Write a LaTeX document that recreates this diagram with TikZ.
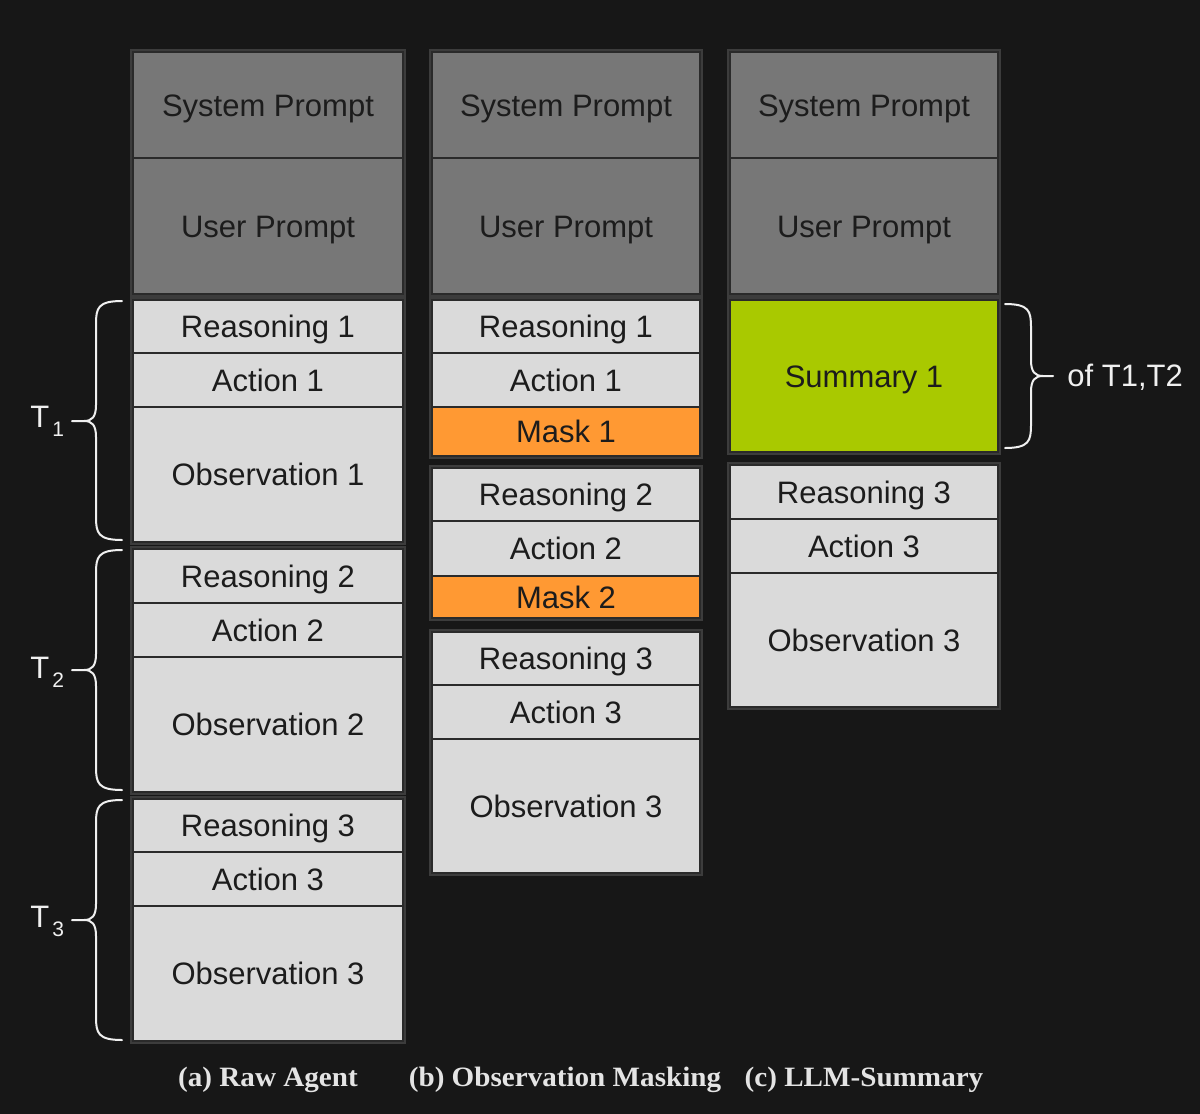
\documentclass[tikz,border=0pt]{standalone}
\usepackage{fontspec}
\setmainfont{Liberation Sans}
\newfontfamily\capfont{Liberation Serif}
\usetikzlibrary{fit,calc}
\definecolor{bgc}{HTML}{171717}
\definecolor{lightc}{HTML}{DADADA}
\definecolor{promptc}{HTML}{777777}
\definecolor{orangec}{HTML}{FF9933}
\definecolor{greenc}{HTML}{A9C900}
\definecolor{txtc}{HTML}{1C1C1C}
\definecolor{edgec}{HTML}{2A2A2A}
\definecolor{framec}{HTML}{3C3C3C}
\definecolor{whitec}{HTML}{F0F0F0}
\tikzset{
  blk/.style={rectangle, draw=edgec, line width=1pt, inner sep=0pt, outer sep=0pt},
  blktxt/.style={text=txtc, inner sep=0pt, font=\fontsize{15.5}{18}\selectfont},
  grp/.style={draw=framec, line width=0.6pt, fill=edgec},
  brc/.style={draw=whitec, line width=1pt, line cap=round},
  lbl/.style={text=whitec, inner sep=0pt, font=\fontsize{15.5}{18}\selectfont},
  captxt/.style={text=whitec!95!black, inner sep=0pt, font=\capfont\bfseries\fontsize{14}{16}\selectfont},
}
\newcommand\bx[7]{%
  \coordinate (#1-a) at (#2,#3);
  \coordinate (#1-b) at (#4,#5);
  \node[blk, fill=#6, fit=(#1-a)(#1-b)] (#1) {};
  \node[blktxt, anchor=base] (#1-t) at ($(#1.center)+(0,11)$) {#7};
}
\newcommand\LBrc[3]{%
  \draw[brc] (122,#1) .. controls (98,#1) and (96,#1+7) .. (96,#1+23) -- (96,#2-16)
     .. controls (96,#2-4) and (92,#2) .. (84,#2) -- (72,#2)
     (84,#2) .. controls (92,#2) and (96,#2+4) .. (96,#2+16) -- (96,#3-23)
     .. controls (96,#3-7) and (98,#3) .. (122,#3);
}
\begin{document}
\begin{tikzpicture}[x=0.5pt,y=-0.5pt]
\fill[bgc] (0,0) rectangle (1200,1114);
\useasboundingbox (0,0) rectangle (1200,1114);

% group frames
\draw[grp] (131,50) rectangle (405,296);
\draw[grp] (131,298) rectangle (405,544);
\draw[grp] (131,547) rectangle (405,794);
\draw[grp] (131,797) rectangle (405,1043);
\draw[grp] (430,50) rectangle (702,296);
\draw[grp] (430,298) rectangle (702,458);
\draw[grp] (430,466) rectangle (702,620);
\draw[grp] (430,630) rectangle (702,875);
\draw[grp] (728,50) rectangle (1000,296);
\draw[grp] (728,298) rectangle (1000,454);
\draw[grp] (728,463) rectangle (1000,709);

% column a
\bx{aS}{133}{52}{403}{158}{promptc}{System Prompt}
\bx{aU}{133}{158}{403}{294}{promptc}{User Prompt}
\bx{aR1}{133}{300}{403}{353}{lightc}{Reasoning 1}
\bx{aA1}{133}{353}{403}{407}{lightc}{Action 1}
\bx{aO1}{133}{407}{403}{542}{lightc}{Observation 1}
\bx{aR2}{133}{549}{403}{603}{lightc}{Reasoning 2}
\bx{aA2}{133}{603}{403}{657}{lightc}{Action 2}
\bx{aO2}{133}{657}{403}{792}{lightc}{Observation 2}
\bx{aR3}{133}{799}{403}{852}{lightc}{Reasoning 3}
\bx{aA3}{133}{852}{403}{906}{lightc}{Action 3}
\bx{aO3}{133}{906}{403}{1041}{lightc}{Observation 3}

% column b
\bx{bS}{432}{52}{700}{158}{promptc}{System Prompt}
\bx{bU}{432}{158}{700}{294}{promptc}{User Prompt}
\bx{bR1}{432}{300}{700}{353}{lightc}{Reasoning 1}
\bx{bA1}{432}{353}{700}{407}{lightc}{Action 1}
\bx{bM1}{432}{407}{700}{456}{orangec}{Mask 1}
\bx{bR2}{432}{468}{700}{521}{lightc}{Reasoning 2}
\bx{bA2}{432}{521}{700}{576}{lightc}{Action 2}
\bx{bM2}{432}{576}{700}{618}{orangec}{Mask 2}
\bx{bR3}{432}{632}{700}{685}{lightc}{Reasoning 3}
\bx{bA3}{432}{685}{700}{739}{lightc}{Action 3}
\bx{bO3}{432}{739}{700}{873}{lightc}{Observation 3}

% column c
\bx{cS}{730}{52}{998}{158}{promptc}{System Prompt}
\bx{cU}{730}{158}{998}{294}{promptc}{User Prompt}
\bx{cS1}{730}{300}{998}{452}{greenc}{Summary 1}
\bx{cR3}{730}{465}{998}{519}{lightc}{Reasoning 3}
\bx{cA3}{730}{519}{998}{573}{lightc}{Action 3}
\bx{cO3}{730}{573}{998}{707}{lightc}{Observation 3}

% braces
\LBrc{301}{421}{540}
\LBrc{550}{670}{790}
\LBrc{800}{920}{1040}
\draw[brc] (1005,304) .. controls (1029,304) and (1031,311) .. (1031,327) -- (1031,360)
   .. controls (1031,372) and (1035,376) .. (1043,376) -- (1053,376)
   (1043,376) .. controls (1035,376) and (1031,380) .. (1031,392) -- (1031,425)
   .. controls (1031,441) and (1029,448) .. (1005,448);

% labels
\node[lbl, anchor=base west] (t1) at (30,427) {T\hspace{1.5pt}\raisebox{-4.5pt}{\fontsize{10.5}{12}\selectfont 1}};
\node[lbl, anchor=base west] (t2) at (30,678) {T\hspace{1.5pt}\raisebox{-4.5pt}{\fontsize{10.5}{12}\selectfont 2}};
\node[lbl, anchor=base west] (t3) at (30,927) {T\hspace{1.5pt}\raisebox{-4.5pt}{\fontsize{10.5}{12}\selectfont 3}};
\node[lbl, anchor=base west] (of) at (1067,386) {of T1,T2};

% captions
\node[captxt, anchor=base] (capa) at (268,1086) {\scalebox{1.04}[1]{(a) Raw Agent}};
\node[captxt, anchor=base] (capb) at (565,1086) {\scalebox{1.04}[1]{(b) Observation Masking}};
\node[captxt, anchor=base] (capc) at (864,1086) {\scalebox{1.04}[1]{(c) LLM-Summary}};
\end{tikzpicture}
\end{document}
